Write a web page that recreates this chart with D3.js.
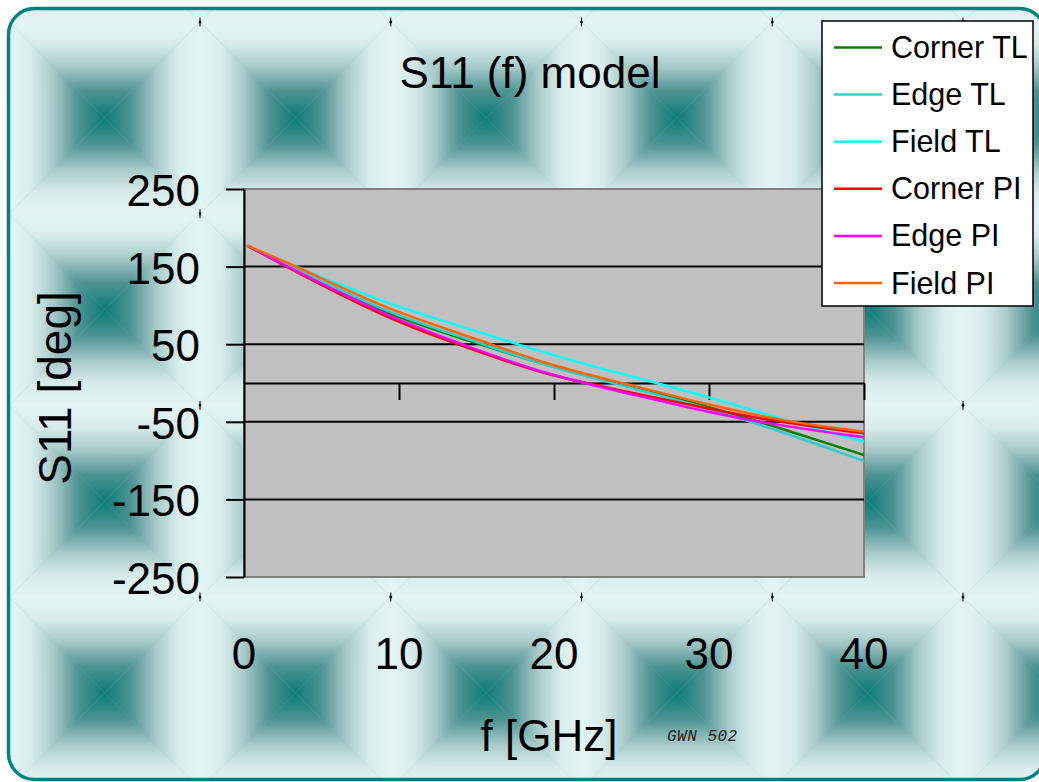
<!DOCTYPE html>
<html><head><meta charset="utf-8">
<script src="https://cdn.jsdelivr.net/npm/d3@7"></script>
<style>
body{margin:0;background:#fff;}
svg{display:block;font-family:"Liberation Sans",Arial,sans-serif;}
</style>
</head><body>
<svg id="chart" width="1039" height="782"></svg>
<script>
// ---------- data ----------
const freqGHz  = [0.2, 3.6, 9.4, 14.6, 19.4, 24.6, 30, 35, 40];
const cornerTL = [177, 142.5, 86.3, 54.0, 23.0, -3.0, -30.5, -60.6, -92.8];
const edgeTL   = [177, 144.5, 88.9, 56.0, 22.0, -4.0, -32.6, -64.8, -100.5];
const fieldTL  = [177, 148.0, 100.5, 69.5, 38.3, 10.3, -17.7, -48.6, -75.7];
const cornerPI = [177, 140.5, 81.2, 44.0, 10.5, -10.5, -33.5, -52.0, -64.9];
const edgePI   = [177, 141.5, 84.4, 46.0, 11.5, -12.5, -38.3, -56.3, -70.0];
const fieldPI  = [177, 148.5, 93.0, 60.0, 24.5, -1.0, -28.4, -49.9, -62.8];
const seriesNames  = ["Corner TL", "Edge TL", "Field TL", "Corner PI", "Edge PI", "Field PI"];
const seriesValues = [cornerTL, edgeTL, fieldTL, cornerPI, edgePI, fieldPI];
const seriesColors = ["#008000", "#33cccc", "#00ffff", "#ff0000", "#ff00ff", "#ff6600"];
const yTickValues = [250, 150, 50, -50, -150, -250];
const yGridValues = [150, 50, -50, -150];
const xTickValues = [0, 10, 20, 30, 40];
const titleText = "S11 (f) model";
const yLabelText = "S11 [deg]";
const xLabelText = "f [GHz]";
const stampText = "GWN 502";

// ---------- setup ----------
const svg = d3.select("#chart");
const defs = svg.append("defs");

// background tile (pyramid gradient)
const TW = 190.75, TH = 191.67, TX = 9.25, TY = 22;
const stops = [[0, "#e4f4f4"], [0.22, "#d9ecec"], [0.46, "#a9caca"], [0.72, "#4f9493"], [1, "#0b7b79"]];
function grad(id, x1, y1, x2, y2) {
  const g = defs.append("linearGradient").attr("id", id)
    .attr("x1", x1).attr("y1", y1).attr("x2", x2).attr("y2", y2);
  stops.forEach(s => g.append("stop").attr("offset", s[0]).attr("stop-color", s[1]));
}
grad("gTop", 0, 0, 0, 1);
grad("gBottom", 0, 1, 0, 0);
grad("gLeft", 0, 0, 1, 0);
grad("gRight", 1, 0, 0, 0);
const pat = defs.append("pattern").attr("id", "bg")
  .attr("patternUnits", "userSpaceOnUse")
  .attr("x", TX).attr("y", TY).attr("width", TW).attr("height", TH);
pat.append("rect").attr("width", TW).attr("height", TH).attr("fill", "#9cc4c4");
const cx = TW / 2, cy = TH / 2;
[
  [[0, 0], [TW, 0], [cx, cy], "gTop"],
  [[0, TH], [TW, TH], [cx, cy], "gBottom"],
  [[0, 0], [0, TH], [cx, cy], "gLeft"],
  [[TW, 0], [TW, TH], [cx, cy], "gRight"]
].forEach(t => {
  pat.append("polygon").attr("points", [t[0], t[1], t[2]].map(p => p.join(",")).join(" "))
    .attr("fill", `url(#${t[3]})`);
});

// frame
svg.append("rect").attr("x", 8.5).attr("y", 8.5).attr("width", 1037).attr("height", 771)
  .attr("rx", 26).attr("fill", "url(#bg)").attr("stroke", "#008080").attr("stroke-width", 3.5);

// small tile markers
const markers = svg.append("g");
for (let i = 0; i < 6; i++) {
  for (let j = 0; j < 4; j++) {
    const mx = TX + i * TW, my = TY + j * TH;
    if (mx < 12 || my > 775) continue;
    markers.append("line").attr("x1", mx).attr("x2", mx).attr("y1", my - 4.5).attr("y2", my + 4.5)
      .attr("stroke", "#000").attr("stroke-width", 1);
    markers.append("polygon").attr("points", `${mx},${my - 2} ${mx + 1.6},${my} ${mx},${my + 2} ${mx - 1.6},${my}`)
      .attr("fill", "#000");
  }
}

// scales
const x = d3.scaleLinear().domain([0, 40]).range([244, 864]);
const y = d3.scaleLinear().domain([-250, 250]).range([577, 189]);

// plot area
svg.append("rect").attr("x", x(0)).attr("y", y(250)).attr("width", x(40) - x(0)).attr("height", y(-250) - y(250))
  .attr("fill", "#c0c0c0").attr("stroke", "#808080").attr("stroke-width", 2);

// gridlines
svg.append("g").selectAll("line").data(yGridValues).join("line")
  .attr("x1", x(0)).attr("x2", x(40)).attr("y1", d => y(d)).attr("y2", d => y(d))
  .attr("stroke", "#000").attr("stroke-width", 2);

// x axis (at 0 deg)
const xAxis = svg.append("g").attr("transform", `translate(0,${y(0)})`)
  .call(d3.axisBottom(x).tickValues([10, 20, 30, 40]).tickSizeInner(17).tickSizeOuter(0).tickFormat(""));
xAxis.selectAll("path,line").attr("stroke", "#000").attr("stroke-width", 2);

// series lines
const line = d3.line().x((d, i) => x(freqGHz[i])).y(d => y(d)).curve(d3.curveBasis);
svg.append("g").selectAll("path").data(seriesValues).join("path")
  .attr("d", d => line(d)).attr("fill", "none")
  .attr("stroke", (d, i) => seriesColors[i]).attr("stroke-width", 2.5)
  .attr("stroke-linejoin", "round");

// y axis
const yAxis = svg.append("g").attr("transform", `translate(${x(0)},0)`)
  .call(d3.axisLeft(y).tickValues(yTickValues).tickSizeInner(18).tickSizeOuter(0).tickFormat(""));
yAxis.selectAll("path,line").attr("stroke", "#000").attr("stroke-width", 2);

// tick labels
svg.append("g").selectAll("text").data(yTickValues).join("text")
  .attr("x", 200).attr("y", d => y(d) + 17).attr("text-anchor", "end")
  .attr("font-size", 44).attr("fill", "#000").text(d => d);
svg.append("g").selectAll("text").data(xTickValues).join("text")
  .attr("x", d => x(d)).attr("y", 669).attr("text-anchor", "middle")
  .attr("font-size", 44).attr("fill", "#000").text(d => d);

// titles
svg.append("text").attr("x", 530).attr("y", 88).attr("text-anchor", "middle")
  .attr("font-size", 44).attr("fill", "#000").text(titleText);
svg.append("text").attr("transform", "translate(71,388) rotate(-90)").attr("text-anchor", "middle")
  .attr("font-size", 46).attr("fill", "#000").text(yLabelText);
svg.append("text").attr("x", 549).attr("y", 751).attr("text-anchor", "middle")
  .attr("font-size", 44).attr("fill", "#000").text(xLabelText);
svg.append("text").attr("x", 667).attr("y", 741)
  .attr("font-family", "'Liberation Mono', monospace").attr("font-style", "italic")
  .attr("font-size", 16).attr("letter-spacing", 0.5).attr("fill", "#222").text(stampText);

// legend
const lg = svg.append("g");
lg.append("rect").attr("x", 822).attr("y", 21).attr("width", 211).attr("height", 285)
  .attr("fill", "#fff").attr("stroke", "#000").attr("stroke-width", 1.5);
const rows = lg.selectAll("g.row").data(seriesNames).join("g").attr("class", "row")
  .attr("transform", (d, i) => `translate(0,${47.5 + i * 47.1})`);
rows.append("line").attr("x1", 834).attr("x2", 882).attr("y1", 0).attr("y2", 0)
  .attr("stroke", (d, i) => seriesColors[i]).attr("stroke-width", 2.5);
rows.append("text").attr("x", 891).attr("y", 10.5).attr("font-size", 30.5).attr("fill", "#000").text(d => d);
</script>
</body></html>
